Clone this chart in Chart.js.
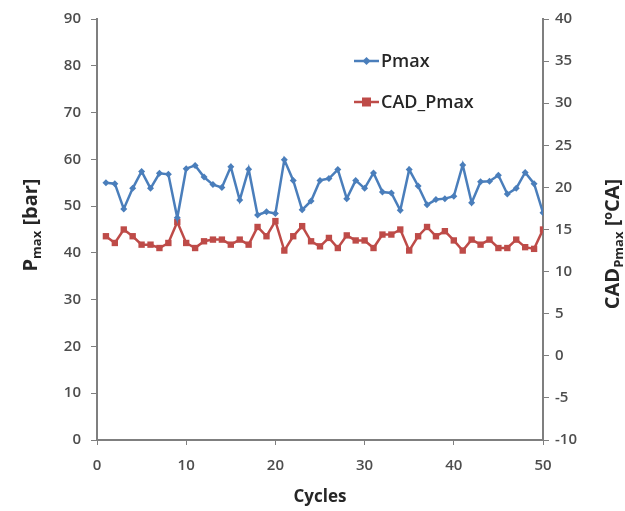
<!DOCTYPE html>
<html>
<head>
<meta charset="utf-8">
<script src="https://cdn.jsdelivr.net/npm/chart.js@4/dist/chart.umd.min.js"></script>
<style>
  html, body { margin: 0; padding: 0; background: #fff; }
  #wrap { width: 625px; height: 511px; }
</style>
</head>
<body>
<div id="wrap"><canvas id="pmax"></canvas></div>
<script>
const cycles = [1, 2, 3, 4, 5, 6, 7, 8, 9, 10, 11, 12, 13, 14, 15, 16, 17, 18, 19, 20,
    21, 22, 23, 24, 25, 26, 27, 28, 29, 30, 31, 32, 33, 34, 35, 36, 37, 38, 39, 40,
    41, 42, 43, 44, 45, 46, 47, 48, 49, 50];

const pmax = [55.0, 54.8, 49.4, 53.8, 57.4, 53.8, 57.0, 56.8, 47.5, 58.0,
    58.7, 56.2, 54.6, 54.0, 58.4, 51.3, 57.9, 48.1, 48.8, 48.4,
    59.9, 55.5, 49.2, 51.1, 55.5, 55.9, 57.8, 51.6, 55.5, 53.8,
    57.1, 53.0, 52.8, 49.1, 57.8, 54.3, 50.3, 51.4, 51.6, 52.1,
    58.8, 50.7, 55.2, 55.3, 56.6, 52.6, 53.8, 57.2, 54.8, 48.6];

const cadPmax = [14.2, 13.4, 15.0, 14.2, 13.2, 13.2, 12.8, 13.4, 15.9, 13.4,
    12.8, 13.6, 13.8, 13.8, 13.2, 13.8, 13.2, 15.3, 14.2, 16.0,
    12.5, 14.2, 15.4, 13.6, 13.0, 14.0, 12.8, 14.3, 13.7, 13.7,
    12.8, 14.4, 14.4, 15.0, 12.5, 14.2, 15.3, 14.2, 14.8, 13.7,
    12.5, 13.8, 13.2, 13.8, 12.8, 12.8, 13.8, 12.9, 12.7, 15.0];

const seriesNames = ['Pmax', 'CAD_Pmax'];

const blue = '#4a7ebb';
const red = '#be4b48';
const axisGrey = '#7f7f7f';
const tickColor = '#4d4d4d';
const fontFam = "'Open Sans', 'Liberation Sans', sans-serif";

// titles with subscripts + legend inside the plot
function richText(ctx, parts, cx, cy) {
    let total = 0;
    parts.forEach(p => {
        ctx.font = p.sub ? 'bold 13px ' + fontFam : 'bold 20px ' + fontFam;
        p.w = ctx.measureText(p.t).width;
        total += p.w;
    });
    let x = cx - total / 2;
    parts.forEach(p => {
        ctx.font = p.sub ? 'bold 13px ' + fontFam : 'bold 20px ' + fontFam;
        ctx.fillText(p.t, x, p.sub ? cy + 6 : cy);
        x += p.w;
    });
}

const decorPlugin = {
    id: 'decor',
    afterDraw(chart) {
        const ctx = chart.ctx;
        const area = chart.chartArea;
        ctx.save();
        ctx.fillStyle = '#262626';
        ctx.textBaseline = 'middle';
        ctx.textAlign = 'left';

        ctx.font = 'bold 17px ' + fontFam;
        const cw = ctx.measureText('Cycles').width;
        ctx.fillText('Cycles', (area.left + area.right) / 2 - cw / 2, 497);

        ctx.save();
        ctx.translate(31, 225);
        ctx.rotate(-Math.PI / 2);
        richText(ctx, [{t: 'P'}, {t: 'max', sub: true}, {t: ' [bar]'}], 0, 0);
        ctx.restore();

        ctx.save();
        ctx.translate(613, 244);
        ctx.rotate(-Math.PI / 2);
        richText(ctx, [{t: 'CAD'}, {t: 'Pmax', sub: true}, {t: ' [ºCA]'}], 0, 0);
        ctx.restore();

        // legend
        const items = [
            {name: seriesNames[0], color: blue, y: 61, style: 'diamond'},
            {name: seriesNames[1], color: red, y: 102, style: 'square'}
        ];
        items.forEach(it => {
            ctx.strokeStyle = it.color;
            ctx.fillStyle = it.color;
            ctx.lineWidth = 2.5;
            ctx.beginPath();
            ctx.moveTo(354, it.y);
            ctx.lineTo(379, it.y);
            ctx.stroke();
            ctx.beginPath();
            if (it.style === 'diamond') {
                ctx.moveTo(366.5, it.y - 4);
                ctx.lineTo(370.5, it.y);
                ctx.lineTo(366.5, it.y + 4);
                ctx.lineTo(362.5, it.y);
                ctx.closePath();
            } else {
                ctx.rect(362, it.y - 4.5, 9, 9);
            }
            ctx.fill();
            ctx.fillStyle = '#262626';
            ctx.font = '600 18px ' + fontFam;
            ctx.fillText(it.name, 381, it.y + 1);
        });
        ctx.restore();
    }
};

new Chart(
    document.getElementById('pmax'),
    {
        type: 'line',
        data: {
            labels: cycles,
            datasets: [{
                label: seriesNames[0],
                data: cycles.map((c, i) => ({x: c, y: pmax[i]})),
                borderColor: blue,
                backgroundColor: blue,
                borderWidth: 2.5,
                pointStyle: 'rectRot',
                pointRadius: 3.5,
                pointBorderWidth: 0,
                tension: 0,
                yAxisID: 'y',
            }, {
                label: seriesNames[1],
                data: cycles.map((c, i) => ({x: c, y: cadPmax[i]})),
                borderColor: red,
                backgroundColor: red,
                borderWidth: 2.5,
                pointStyle: 'rect',
                pointRadius: 4.5,
                pointBorderWidth: 0,
                tension: 0,
                yAxisID: 'y1',
            }]
        },
        options: {
            responsive: true,
            maintainAspectRatio: false,
            animation: false,
            layout: {
                padding: {top: 17, left: 0, right: 0, bottom: 0}
            },
            plugins: {
                legend: {display: false},
                tooltip: {enabled: false}
            },
            scales: {
                x: {
                    type: 'linear',
                    min: 0,
                    max: 50,
                    ticks: {stepSize: 10, color: tickColor, font: {family: fontFam, size: 15, weight: '600'}, padding: 12},
                    grid: {drawOnChartArea: false, tickLength: 5, color: axisGrey},
                    border: {color: axisGrey, width: 2},
                    afterFit: (s) => { s.height = 71; }
                },
                y: {
                    position: 'left',
                    min: 0,
                    max: 90,
                    ticks: {stepSize: 10, color: tickColor, font: {family: fontFam, size: 15, weight: '600'}, padding: 10},
                    grid: {drawOnChartArea: false, tickLength: 6, color: axisGrey},
                    border: {color: axisGrey, width: 2},
                    afterFit: (s) => { s.width = 97; }
                },
                y1: {
                    position: 'right',
                    min: -10,
                    max: 40,
                    ticks: {stepSize: 5, color: tickColor, font: {family: fontFam, size: 15, weight: '600'}, padding: 6},
                    grid: {drawOnChartArea: false, tickLength: 6, color: axisGrey},
                    border: {color: axisGrey, width: 2},
                    afterFit: (s) => { s.width = 82; }
                }
            }
        },
        plugins: [decorPlugin]
    }
);
</script>
</body>
</html>
